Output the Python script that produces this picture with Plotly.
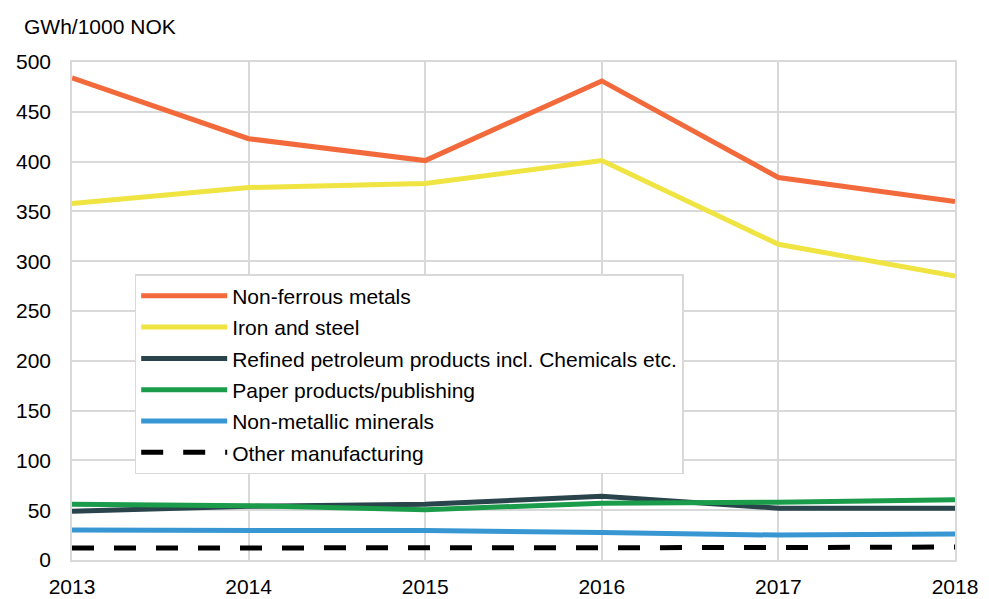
import plotly.graph_objects as go

years = [2013, 2014, 2015, 2016, 2017, 2018]

non_ferrous = [484, 423, 401, 481, 384, 360]
iron_steel = [358, 374, 378, 401, 317, 285]
refined_petroleum = [49, 54, 56, 64, 52, 52]
paper = [56, 54.5, 50.5, 57, 58, 60.5]
non_metallic = [30, 30, 29.5, 27.5, 25, 26]
other = [12, 12, 11.5, 12, 12.5, 13]

series = [
    ("Non-ferrous metals", non_ferrous, "#f26a3b", "solid"),
    ("Iron and steel", iron_steel, "#f0e442", "solid"),
    ("Refined petroleum products incl. Chemicals etc.", refined_petroleum, "#29444a", "solid"),
    ("Paper products/publishing", paper, "#1a9c4a", "solid"),
    ("Non-metallic minerals", non_metallic, "#3897d3", "solid"),
    ("Other manufacturing", other, "#000000", "22px,20px"),
]

fig = go.Figure()
for i, (name, vals, color, dash) in enumerate(series):
    fig.add_trace(go.Scatter(
        x=years, y=vals, name=name, mode="lines",
        legendgroup=str(i),
        line=dict(color=color, width=5, dash=dash),
    ))

font = dict(family="Liberation Sans, Arial", size=21, color="#000000")

# page body has an 8px margin, so the figure is drawn 8px in from the top-left
fig.update_layout(
    width=981, height=591,
    margin=dict(l=64, r=34, t=54, b=39),
    plot_bgcolor="white", paper_bgcolor="white",
    font=font,
    showlegend=True,
    legend=dict(
        x=0.071, y=0.574, xanchor="left", yanchor="top",
        bgcolor="white", bordercolor="#d9d9d9", borderwidth=1.5,
        font=font, tracegroupgap=1, itemwidth=86,
    ),
    xaxis=dict(
        range=[2013, 2018], tickvals=years, showgrid=True,
        gridcolor="#d9d9d9", gridwidth=1.5, zeroline=False,
        showline=True, linecolor="#d9d9d9", linewidth=1.5, mirror=True,
        ticks="", tickfont=font, automargin=False, ticklabelstandoff=7,
    ),
    yaxis=dict(
        range=[0, 500], dtick=50, showgrid=True,
        gridcolor="#d9d9d9", gridwidth=1.5, zeroline=False,
        showline=True, linecolor="#d9d9d9", linewidth=1.5, mirror=True,
        ticks="", tickfont=font, automargin=False, ticklabelstandoff=15,
    ),
    annotations=[dict(
        text="GWh/1000 NOK", xref="paper", yref="paper",
        x=-0.057, y=1.045, xanchor="left", yanchor="bottom",
        showarrow=False, font=font,
    )],
)

fig.write_html("out.html")
